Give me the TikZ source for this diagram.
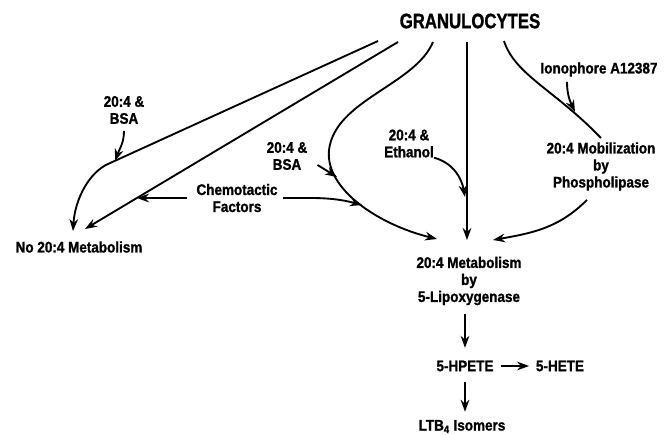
\documentclass[tikz,border=0pt]{standalone}
\usepackage{fontspec}
\setmainfont{Liberation Sans}[FakeStretch=0.88, BoldFeatures={FakeBold=1.2}]
\newfontfamily\headfont{Liberation Sans}[FakeStretch=0.8, BoldFeatures={FakeBold=1.2}]
\usetikzlibrary{arrows.meta}
\tikzset{
	flow/.style={line width=1.4pt, -{Stealth[length=9pt, width=6.5pt]}},
	link/.style={line width=1.4pt}
}

\begin{document}
\begin{tikzpicture}
		[x=0.75pt, y=0.75pt, inner sep=0pt,
		 font=\bfseries\fontsize{11.5}{12.75}\selectfont,
		 every node/.style={align=center}]
		
		\useasboundingbox (0,0) rectangle (668,-435);
		
		\node (gran) at (470,-21) {\headfont\bfseries\fontsize{15.7}{18}\selectfont GRANULOCYTES};
		
		% text nodes ---------------------------------------------
		\node (nometab) at (79,-247) {No 20:4 Metabolism};
		\node (bsa1) at (124,-110) {20:4 \&\\BSA};
		\node (bsa2) at (287,-156) {20:4 \&\\BSA};
		\node (chemo) at (237,-198) {Chemotactic\\Factors};
		\node (ethanol) at (409,-143.5) {20:4 \&\\Ethanol};
		\node (iono) at (599,-69.5) {Ionophore A12387};
		\node (mobil) at (601,-166.5) {20:4 Mobilization\\by\\Phospholipase};
		\node (lipox) at (469,-281) {20:4 Metabolism\\by\\5-Lipoxygenase};
		\node (hpete) at (465,-366) {5-HPETE};
		\node (hete) at (560,-366) {5-HETE};
		\node (ltb) at (462,-426.5) {LTB\textsubscript{4} Isomers};
		
		% ends on the granulocyte side ---------------------------
		\coordinate (g1) at (378,-41);
		\coordinate (g2) at (398,-42);
		\coordinate (g3) at (433,-42);
		\coordinate (g4) at (467,-42);
		\coordinate (g5) at (504,-41);
		
		% no metabolism ------------------------------------------
		\coordinate (k1) at (108,-164);
		\coordinate (n1) at (73,-231);
		\coordinate (n2) at (85,-229);
		\draw[flow] (g1) -- (k1) .. controls (90,-172) and (75,-198) .. (n1);
		\draw[flow] (g2) -- (n2);
		
		\coordinate (b1) at (115,-161);
		\draw[flow] ([yshift=-5pt]bsa1.south) to[out=-90, in=70] (b1);
		
		\coordinate (c1) at (137,-198);
		\draw[flow] ([xshift=-7pt]chemo.west) -- (c1);
		
		% 5-lipoxygenase -----------------------------------------
		\coordinate (e3) at (437,-239);
		\draw[flow] (g3) .. controls (415,-85) and (335,-100) .. (329,-150)
			.. controls (325,-190) and (380,-225) .. (e3);
		
		\coordinate (b2) at (337,-177);
		\draw[flow] ([xshift=7.5pt, yshift=-6.75pt]bsa2.east) -- (b2);
		
		\coordinate (c2) at (362,-205);
		\draw[flow] ([xshift=4pt]chemo.east) to[out=0, in=165] (c2);
		
		\coordinate (e4) at (467,-240);
		\draw[flow] (g4) -- (e4);
		
		\coordinate (t1) at (465,-197);
		\draw[flow] (ethanol.south east) to[out=-15, in=100] (t1);
		
		% phospholipase ------------------------------------------
		\draw[link] (g5) .. controls (515,-75) and (555,-90) .. ([yshift=3pt]mobil.north);
		
		\coordinate (i1) at (575,-112);
		\draw[flow] ([xshift=-24pt, yshift=-3.75pt]iono.south) to[out=-90, in=115] (i1);
		
		\coordinate (e6) at (493,-240);
		\draw[flow] ([xshift=-10.5pt, yshift=-6.75pt]mobil.south) to[out=225, in=10] (e6);
		
		% products -----------------------------------------------
		\draw[flow, shorten <=6.75pt, shorten >=9.4pt] (hpete.north |- lipox.south) -- (hpete.north);
		\draw[flow, shorten <=5.6pt, shorten >=5pt] (hpete.east) -- (hete.west);
		\draw[flow, shorten <=7.9pt, shorten >=6pt] (hpete.south) -- (hpete.south |- ltb.north);
		\end{tikzpicture}
\end{document}
